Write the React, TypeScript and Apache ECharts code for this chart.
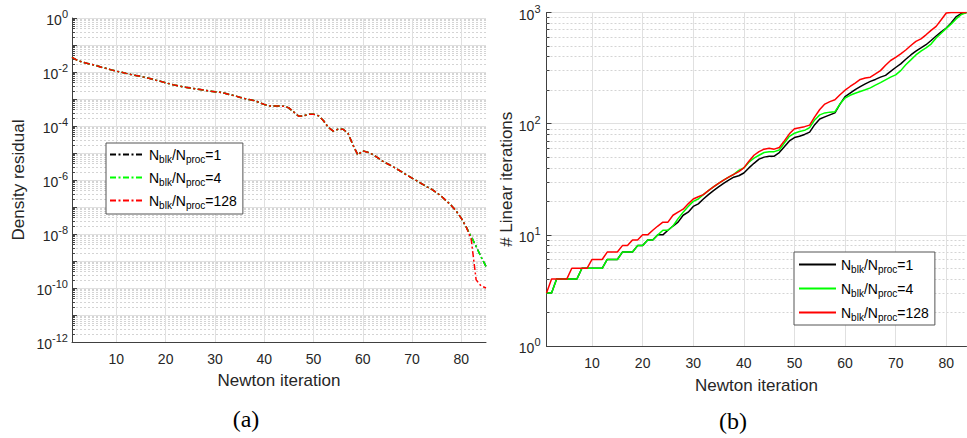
import React, { useEffect, useRef } from 'react';
import * as echarts from 'echarts';

// (a) Density residual vs Newton iteration, iterations 1..81 shared by all runs
const densityCommon = [
  3.5e-2, 2.75e-2, 2.35e-2, 2.1e-2, 1.9e-2, 1.7e-2, 1.5e-2, 1.35e-2, 1.2e-2, 1.07e-2,
  9.8e-3, 8.9e-3, 8.1e-3, 7.4e-3, 6.8e-3, 6.2e-3, 5.6e-3, 5.0e-3, 4.5e-3, 4.0e-3,
  3.55e-3, 3.2e-3, 2.95e-3, 2.75e-3, 2.57e-3, 2.4e-3, 2.24e-3, 2.09e-3, 1.95e-3, 1.86e-3,
  1.78e-3, 1.62e-3, 1.45e-3, 1.32e-3, 1.17e-3, 1.05e-3, 9.5e-4, 8.7e-4, 7.4e-4, 6.3e-4,
  5.6e-4, 5.5e-4, 5.5e-4, 5.4e-4, 4.7e-4, 3.3e-4, 2.3e-4, 2.4e-4, 2.7e-4, 2.75e-4,
  2.4e-4, 1.6e-4, 8.9e-5, 6.5e-5, 7.6e-5, 7.6e-5, 5.4e-5, 2.0e-5, 8.5e-6, 1.2e-5,
  1.07e-5, 8.9e-6, 6.8e-6, 5.0e-6, 4.0e-6, 3.2e-6, 2.5e-6, 1.95e-6, 1.5e-6, 1.17e-6,
  9.3e-7, 7.2e-7, 5.6e-7, 4.5e-7, 3.4e-7, 2.45e-7, 1.66e-7, 1.12e-7, 6.9e-8, 3.8e-8,
  1.8e-8,
];
// iterations 82..85
const densityTail1 = [7.9e-9, 3.5e-9, 1.4e-9, 6.3e-10];
const densityTail4 = [7.9e-9, 3.5e-9, 1.4e-9, 6.3e-10];
const densityTail128 = [6.3e-9, 2.0e-10, 1.2e-10, 1.0e-10];

// (b) Linear iterations per Newton iteration, iterations 1..84
const linIter1 = [
  3, 3, 4, 4, 4, 4, 4, 5, 5, 5,
  5, 5, 6, 6, 6, 7, 7, 7, 8, 8,
  9, 9, 10, 10, 11, 12, 13, 15, 16, 18,
  19, 21, 23, 25, 27, 29, 31, 33, 34, 36,
  40, 44, 48, 50, 51, 51, 55, 62, 70, 75,
  77, 80, 84, 98, 110, 115, 120, 125, 150, 175,
  188, 202, 215, 228, 240, 250, 262, 272, 295, 320,
  345, 380, 415, 450, 480, 513, 560, 615, 670, 724,
  810, 920, 980, 1000,
];
const linIter4 = [
  3, 3, 4, 4, 4, 4, 4, 5, 5, 5,
  5, 5, 6, 6, 6, 7, 7, 7, 8, 8,
  9, 9, 10, 11, 11, 12, 14, 16, 18, 20,
  21, 23, 25, 27, 29, 31, 33, 35, 38, 40,
  45, 49, 52, 55, 56, 56, 58, 67, 77, 82,
  85, 87, 92, 108, 120, 125, 127, 128, 150, 170,
  180, 188, 195, 202, 210, 222, 234, 248, 262, 275,
  300, 339, 375, 415, 450, 480, 520, 590, 650, 720,
  790, 880, 960, 1000,
];
const linIter128 = [
  3, 4, 4, 4, 4, 5, 5, 5, 5, 6,
  6, 6, 7, 7, 7, 8, 8, 9, 9, 10,
  10, 11, 12, 13, 13, 15, 16, 17, 19, 21,
  22, 23, 25, 27, 29, 31, 33, 35, 37, 40,
  46, 52, 56, 59, 60, 59, 61, 70, 81, 90,
  92, 94, 97, 115, 134, 150, 158, 164, 182, 200,
  216, 232, 250, 258, 262, 280, 300, 335, 370, 395,
  425, 460, 505, 550, 580, 630, 690, 750, 860, 990,
  1000, 1000, 1000, 1000,
];

const xTickValues = [10, 20, 30, 40, 50, 60, 70, 80];
const legendValues = ['1', '4', '128'];
const seriesColors = ['#000000', '#00ff00', '#ff0000'];

const FONT = "'Liberation Sans', Arial, Helvetica, sans-serif";
const AXIS = '#404040';
const TEXT = '#262626';

const toPoints = (vals: number[]) => vals.map((v, i) => [i + 1, Math.log10(v)]);

const minorLevels = (lo: number, hi: number) => {
  const out: number[] = [];
  for (let e = lo; e < hi; e++) for (let k = 2; k <= 9; k++) out.push(e + Math.log10(k));
  return out;
};

function gridHelpers(idx: number, xMin: number, xMax: number, yMin: number, yMax: number) {
  const minors = minorLevels(yMin, yMax);
  const base = {
    type: 'line' as const,
    xAxisIndex: idx,
    yAxisIndex: idx,
    data: [] as any[],
    silent: true,
    symbol: 'none',
    z: 1,
  };
  return [
    {
      ...base,
      name: 'minorGrid' + idx,
      markLine: {
        silent: true, z: 1, symbol: ['none', 'none'], label: { show: false },
        lineStyle: { color: '#d4d4d4', width: 1, type: [2, 2] },
        emphasis: { disabled: true },
        data: minors.map((y) => [{ coord: [xMin, y] }, { coord: [xMax, y] }]),
      },
    },
    {
      ...base,
      name: 'vGrid' + idx,
      markLine: {
        silent: true, z: 1, symbol: ['none', 'none'], label: { show: false },
        lineStyle: { color: '#e0e0e0', width: 1, type: 'solid' },
        emphasis: { disabled: true },
        data: xTickValues.map((x) => [{ coord: [x, yMin] }, { coord: [x, yMax] }]),
      },
    },
    {
      ...base,
      name: 'minorTick' + idx,
      markLine: {
        silent: true, z: 3, symbol: ['none', 'none'], label: { show: false },
        lineStyle: { color: AXIS, width: 1, type: 'solid' },
        emphasis: { disabled: true },
        data: minors.map((y) => [{ coord: [xMin, y] }, { coord: [xMin + 0.6, y] }]),
      },
    },
  ];
}

const yLabelRich = {
  b: { fontSize: 14, fontFamily: FONT, color: TEXT, padding: [4, 0, 0, 0] },
  s: { fontSize: 11, fontFamily: FONT, color: TEXT, padding: [0, 0, 8, 0] },
};

const legendRich = {
  n: { fontSize: 14, fontFamily: FONT, color: '#000', lineHeight: 20 },
  s: { fontSize: 10, fontFamily: FONT, color: '#000', lineHeight: 12, padding: [9, 0, 0, 0] },
};

const legendFormatter = (name: string) => {
  const i = Number(name.slice(1));
  return `{n|N}{s|blk}{n|/N}{s|proc}{n|=${legendValues[i]}}`;
};

function xAxis(idx: number, min: number, max: number, margin: number, gap: number) {
  return {
    type: 'value', gridIndex: idx, min, max,
    axisLine: { show: true, onZero: false, lineStyle: { color: AXIS, width: 1 } },
    axisTick: { show: true, inside: true, length: 5, customValues: xTickValues, lineStyle: { color: AXIS } },
    axisLabel: { customValues: xTickValues, margin, fontSize: 14, fontFamily: FONT, color: TEXT },
    splitLine: { show: false },
    name: 'Newton iteration', nameLocation: 'middle', nameGap: gap,
    nameTextStyle: { fontSize: 17, fontFamily: FONT, color: TEXT },
  };
}

function yAxis(idx: number, min: number, max: number, everyOther: boolean, name: string, gap: number, margin: number) {
  return {
    type: 'value', gridIndex: idx, min, max, interval: 1,
    axisLine: { show: true, onZero: false, lineStyle: { color: AXIS, width: 1 } },
    axisTick: { show: true, inside: true, length: 5, lineStyle: { color: AXIS } },
    axisLabel: {
      margin,
      formatter: (v: number) => {
        const e = Math.round(v);
        if (everyOther && e % 2 !== 0) return '';
        return `{b|10}{s|${e}}`;
      },
      rich: yLabelRich,
    },
    splitLine: { show: true, lineStyle: { color: '#e0e0e0', width: 1 } },
    name, nameLocation: 'middle', nameRotate: 90, nameGap: gap,
    nameTextStyle: { fontSize: 17, fontFamily: FONT, color: TEXT },
  };
}

const legendCommon = {
  orient: 'vertical', itemHeight: 14,
  borderColor: '#555', borderWidth: 1, backgroundColor: '#fff',
  formatter: legendFormatter, selectedMode: false,
  itemStyle: { opacity: 0, color: 'rgba(0,0,0,0)', borderWidth: 0 },
  textStyle: { fontFamily: FONT, fontSize: 14, color: '#000', rich: legendRich },
};

export default function App() {
  const ref = useRef<HTMLDivElement>(null);
  useEffect(() => {
    if (!ref.current) return;
    const chart = echarts.init(ref.current, undefined, { renderer: 'svg' });

    const densityRuns = [
      densityCommon.concat(densityTail1),
      densityCommon.concat(densityTail4),
      densityCommon.concat(densityTail128),
    ];
    const linRuns = [linIter1, linIter4, linIter128];

    const seriesA = densityRuns.map((vals, i) => ({
      name: 'a' + i, type: 'line', xAxisIndex: 0, yAxisIndex: 0,
      data: toPoints(vals), symbol: 'none', showSymbol: false, z: 2 + i,
      color: seriesColors[i],
      lineStyle: { color: seriesColors[i], width: 1.5, type: [6, 2.5, 2, 2.5] },
    }));
    const seriesB = linRuns.map((vals, i) => ({
      name: 'b' + i, type: 'line', xAxisIndex: 1, yAxisIndex: 1,
      data: toPoints(vals), symbol: 'none', showSymbol: false, z: 2 + i,
      color: seriesColors[i],
      lineStyle: { color: seriesColors[i], width: 1.5, type: 'solid' },
    }));

    chart.setOption({
      animation: false,
      backgroundColor: '#ffffff',
      textStyle: { fontFamily: FONT },
      grid: [
        { left: 72, top: 18, width: 414, height: 324 },
        { left: 546.5, top: 12.5, width: 420, height: 333.5 },
      ],
      xAxis: [xAxis(0, 1, 85, 10, 30), xAxis(1, 1, 84, 9.5, 30.5)],
      yAxis: [
        yAxis(0, -12, 0, true, 'Density residual', 45, 4),
        yAxis(1, 0, 3, false, '# Linear iterations', 30, 6),
      ],
      legend: [
        {
          ...legendCommon, left: 106, top: 143, itemWidth: 34, itemGap: 4,
          padding: [2, 6, 4, 3], data: ['a0', 'a1', 'a2'],
        },
        {
          ...legendCommon, left: 794, top: 252, itemWidth: 37, itemGap: 5,
          padding: [3, 6, 3, 4], data: ['b0', 'b1', 'b2'],
        },
      ],
      graphic: [
        {
          type: 'text', x: 246, y: 419,
          style: { text: '(a)', font: "24px 'Liberation Serif', 'Times New Roman', serif", fill: '#000', align: 'center', verticalAlign: 'middle', textAlign: 'center', textVerticalAlign: 'middle' },
        },
        {
          type: 'text', x: 733, y: 421,
          style: { text: '(b)', font: "24px 'Liberation Serif', 'Times New Roman', serif", fill: '#000', align: 'center', verticalAlign: 'middle', textAlign: 'center', textVerticalAlign: 'middle' },
        },
      ],
      series: [
        ...gridHelpers(0, 1, 85, -12, 0),
        ...gridHelpers(1, 1, 84, 0, 3),
        ...seriesA,
        ...seriesB,
      ],
    });
    return () => chart.dispose();
  }, []);
  return <div ref={ref} style={{ position: 'absolute', left: 0, top: 0, width: 967, height: 438 }} />;
}
